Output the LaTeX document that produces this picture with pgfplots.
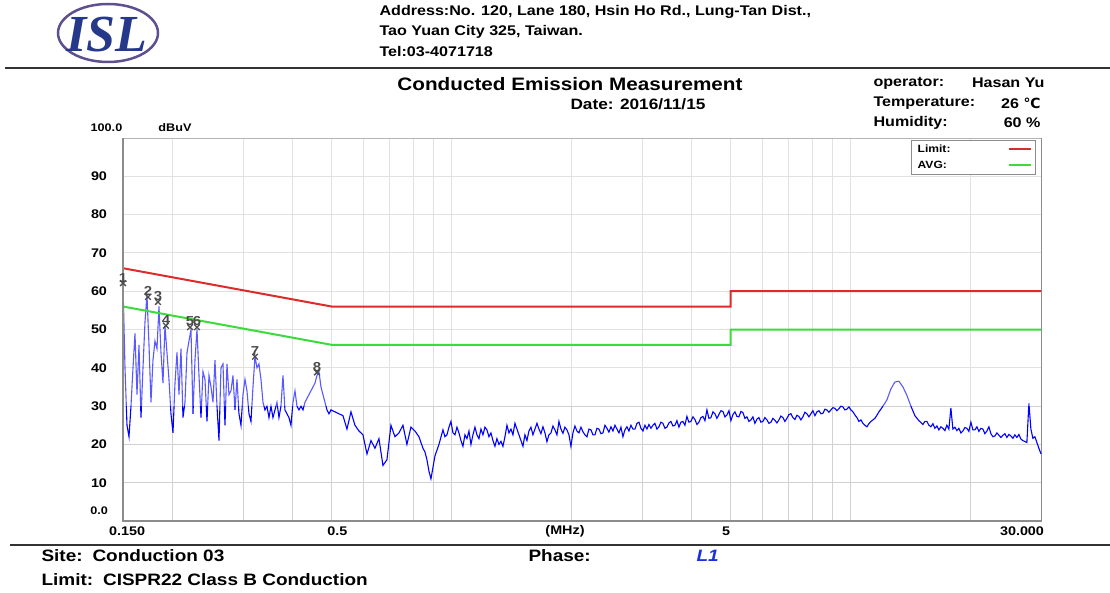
\documentclass[border=0pt]{standalone}
\usepackage{fontspec}
\setmainfont{Liberation Sans}[FakeStretch=1.15]
\newfontfamily\logofont{Liberation Serif}
\newfontfamily\symfont{DejaVu Sans}
\usepackage{pgfplots}
\usepackage{pgfplotstable}
\pgfplotsset{compat=1.18}
\newcommand{\fs}[1]{\fontsize{#1}{#1}\selectfont}
\definecolor{limred}{HTML}{DD2A2A}
\definecolor{avggreen}{HTML}{3ADB3A}
\definecolor{logoblue}{HTML}{26388A}
\definecolor{logoring}{HTML}{5E4F8E}
\definecolor{phaseblue}{HTML}{1A2FE0}

\begin{document}
% scan trace, L1 (MHz, dBuV)
\pgfplotstableread{
f v
0.15000 62
0.15174 40
0.15350 25
0.15529 22
0.15709 30
0.15891 40
0.16076 49
0.16262 33
0.16451 46
0.16642 27
0.16835 40
0.17031 52
0.17228 59
0.17428 46
0.17631 31
0.17835 42
0.18042 47
0.18252 45
0.18464 56
0.18678 44
0.18895 36
0.19114 51
0.19336 44
0.19560 37
0.19788 28
0.20017 23
0.20250 36
0.20485 44
0.20722 33
0.20963 45
0.21206 27
0.21452 31
0.21702 44
0.21953 47
0.22208 50
0.22466 28
0.22727 42
0.22991 50
0.23258 38
0.23528 27
0.23801 39
0.24077 37
0.24357 26
0.24639 38
0.24925 35
0.25215 31
0.25507 42
0.25804 30
0.26103 21
0.26406 40
0.26713 41
0.27023 25
0.27336 41
0.27654 33
0.27975 34
0.28299 38
0.28628 29
0.28960 37
0.29296 28
0.29637 25
0.29981 33
0.30329 37
0.30681 34
0.31037 28
0.31397 26
0.31762 35
0.32130 43
0.32503 40
0.32880 41
0.33262 37
0.33648 31
0.34039 29
0.34434 30
0.34834 27
0.35238 30
0.35647 27
0.36061 29
0.36480 31
0.36903 27
0.37332 30
0.37765 38
0.38203 29
0.38647 28
0.39095 27
0.39549 25
0.40008 31
0.40473 34
0.40943 30
0.41418 29
0.41899 30
0.42385 29
0.42877 31
0.43375 32
0.43878 33
0.44388 34
0.44903 35
0.45424 36
0.45952 38
0.46485 39
0.47025 35
0.47570 33
0.48123 31
0.48681 29
0.49246 28
0.49818 29
0.50981 28.5
0.52172 28
0.53390 27.5
0.54637 24
0.55913 28.5
0.57219 25
0.58555 23.5
0.59922 22.5
0.61321 17.5
0.62753 21
0.64219 19
0.65718 21.5
0.67253 14.5
0.68823 16
0.70430 25
0.72075 22
0.73758 23
0.75480 25
0.77243 20
0.79047 24.5
0.80893 23.5
0.82782 22
0.84714 19
0.85698 18
0.86693 16
0.87699 13
0.88717 11
0.89747 14
0.90789 17
0.92909 20
0.95078 23.8
0.96182 22.0
0.97299 22.5
0.98429 24.5
0.99571 26
1.00727 23.0
1.01896 22.5
1.03079 24.5
1.04276 23
1.05487 21.0
1.0671 19.5
1.0795 22.5
1.0920 21.5
1.1047 23.5
1.1175 20
1.1305 22.5
1.1436 24.5
1.1569 22.5
1.1703 21.5
1.1839 24.0
1.1977 22.5
1.2116 24.5
1.2256 23.8
1.2398 22.0
1.2542 23
1.2688 21.0
1.2835 19.5
1.2984 21.5
1.3135 20
1.3287 20.8
1.3442 19.5
1.3598 22.0
1.3756 25
1.3916 23.0
1.4077 24
1.4240 22.5
1.4406 25.5
1.4573 24.0
1.4742 22.5
1.4913 21.0
1.5086 19.5
1.5261 22.5
1.5438 21
1.5617 23.5
1.5799 24.5
1.5982 22.5
1.6168 24
1.6356 25.5
1.6546 24
1.6738 22.8
1.6933 24.6
1.7130 23.0
1.7328 20.7
1.7529 22.5
1.7733 23
1.7939 24.8
1.8147 23.8
1.8358 22.5
1.8571 26
1.8787 24.0
1.9004 22.9
1.9225 24.5
1.9448 23.8
1.9674 22.5
1.9902 19.5
2.0133 23.0
2.0367 24.8
2.0603 23.5
2.0842 23
2.1084 24.5
2.1329 23.3
2.1577 22.5
2.1827 22
2.2080 24.0
2.2337 23.8
2.2596 22.5
2.2858 22.5
2.3123 24.2
2.3392 24
2.3664 22.8
2.3938 23
2.4216 25.0
2.4497 24.2
2.4781 23.2
2.5070 24.6
2.5361 23.5
2.5655 25
2.5953 24.0
2.6254 23
2.6559 24.5
2.6867 22
2.7179 23.8
2.7494 24.6
2.7813 23.5
2.8137 25
2.8464 24.0
2.8794 24
2.9128 25.5
2.9466 25.8
2.9808 24.2
3.0154 23.5
3.0504 25.0
3.0858 24
3.1216 25.2
3.1579 24.2
3.1946 25.0
3.2316 25.5
3.2691 24.0
3.3071 24.6
3.3455 25.8
3.3843 25.5
3.4236 24.2
3.4633 24.5
3.5035 25.6
3.5442 26
3.5853 24.8
3.6270 25
3.6691 26.2
3.7117 24.5
3.7548 25.8
3.7983 26
3.8424 25.0
3.8870 27.3
3.9321 25.8
3.9778 26
4.0240 27.2
4.0707 26.5
4.1180 25.2
4.1658 25.8
4.2142 27.0
4.2630 27.3
4.3125 26.2
4.3625 29
4.4131 26.8
4.4644 27
4.5162 28.5
4.5686 28
4.6216 26.8
4.6753 27.8
4.7296 28.8
4.7846 28.6
4.8401 27.2
4.8963 27.7
4.9531 28.8
5.0106 26.2
5.0688 27.8
5.1277 28.5
5.1872 27.3
5.2474 27.2
5.3083 28.6
5.3699 28.3
5.4322 26.8
5.4953 27.2
5.5591 26.0
5.6236 26.4
5.6889 27.2
5.7549 25.5
5.8217 26.6
5.8893 27
5.9577 25.8
6.0268 26
6.0968 27.0
6.1676 26.4
6.2392 25.5
6.3116 25.8
6.3849 26.8
6.4590 26.3
6.5340 25.6
6.6098 26.4
6.6865 27.4
6.7642 27
6.8427 26.0
6.9221 26.8
7.0025 27.8
7.0837 28
7.1659 27.0
7.2492 26.5
7.3334 27.6
7.4185 27.3
7.5046 26.4
7.5917 27.2
7.6798 28.4
7.7690 28
7.8592 27.2
7.9504 28
8.0427 28.8
8.1360 27.5
8.2304 28.5
8.3260 28.8
8.4227 28.0
8.5204 28.1
8.6193 29.2
8.7194 29
8.8206 28.4
8.9230 29
9.0266 29.6
9.1314 29.4
9.2374 28.8
9.3446 29.3
9.4531 30.0
9.5628 29.8
9.6738 29.0
9.7861 29.2
9.8997 29.8
10.015 29
10.131 28.5
10.249 27.7
10.368 27.0
10.488 26
10.610 26.4
10.733 25.5
10.858 25.0
10.983 24.6
11.110 25.4
11.240 26
11.370 26.4
11.502 26.8
11.636 27.6
11.771 28.5
11.908 29.2
12.046 30
12.327 31.6
12.615 34.5
12.909 36.3
13.211 36.5
13.519 35
13.835 32.8
14.158 30
14.489 27.5
14.827 26.2
15.173 25.2
15.349 26.0
15.528 26
15.708 25.0
15.890 24.6
16.074 25.4
16.261 24.2
16.450 24.8
16.641 23.8
16.834 24.6
17.030 24.2
17.228 23.6
17.427 25
17.629 24.0
17.834 29.5
18.041 24.0
18.251 24.5
18.463 23.6
18.677 24.2
18.894 23.0
19.113 23.5
19.335 24.4
19.559 24.2
19.786 23.4
20.016 25.8
20.248 23.8
20.483 23.8
20.721 24.6
20.962 23.4
21.205 24.2
21.451 24
21.700 22.8
21.952 23.5
22.207 24.6
22.465 22.8
22.726 22.0
22.989 22.2
23.256 23.0
23.526 22.4
23.799 21.8
24.076 22.4
24.355 22.8
24.638 21.8
24.924 22.6
25.213 22.2
25.506 21.6
25.802 22.5
26.101 21.8
26.404 22.6
26.710 21.4
27.021 21
27.652 20.5
27.973 30.8
28.298 24
28.626 21.6
28.958 22
29.295 20.5
29.635 19
30.000 17.5
}\trace

% marked peaks
\pgfplotstableread{
f v lbl
0.1500 62.1 1
0.1733 58.5 2
0.1836 57.2 3
0.1922 51.0 4
0.2209 50.6 5
0.2299 50.6 6
0.3213 42.9 7
0.4596 38.8 8
}\peaks

\begin{tikzpicture}
\useasboundingbox (0,0) rectangle (1110pt,592pt);

% logo
\draw[logoring, line width=2.5pt] (108pt,559pt) ellipse [x radius=50pt, y radius=29pt];
\node[logoblue, font=\logofont\bfseries\itshape\fs{52}] at (107pt,557pt) {ISL};

% address block
\node[anchor=west, font=\bfseries\fs{14}] at (376pt,580pt) {Address:No. 120, Lane 180, Hsin Ho Rd., Lung-Tan Dist.,};
\node[anchor=west, font=\bfseries\fs{14}] at (376pt,560pt) {Tao Yuan City 325, Taiwan.};
\node[anchor=west, font=\bfseries\fs{14}] at (376pt,540pt) {Tel:03-4071718};
\draw[black!80, line width=2pt] (5pt,524pt) -- (1110pt,524pt);

% title and conditions
\node[font=\bfseries\fs{18}] at (570pt,508pt) {Conducted Emission Measurement};
\node[anchor=west, font=\bfseries\fs{15}] at (567pt,488pt) {Date: 2016/11/15};
\node[anchor=west, font=\bfseries\fs{14}] at (870pt,509pt) {operator:};
\node[anchor=east, font=\bfseries\fs{14}] at (1048pt,509pt) {Hasan Yu};
\node[anchor=west, font=\bfseries\fs{14}] at (870pt,489pt) {Temperature:};
\node[anchor=east, font=\bfseries\fs{14}] at (1044pt,489pt) {26 {\symfont ℃}};
\node[anchor=west, font=\bfseries\fs{14}] at (870pt,469pt) {Humidity:};
\node[anchor=east, font=\bfseries\fs{14}] at (1044pt,469pt) {60 \%};

\begin{axis}[
    at={(123pt,71pt)}, anchor=south west,
    scale only axis, width=918pt, height=383pt,
    xmode=log, xmin=0.15, xmax=30, ymin=0, ymax=100,
    xtick={0.2,0.3,0.4,0.5,0.6,0.7,0.8,0.9,1,2,3,4,5,6,7,8,9,10,20},
    xticklabels={},
    ytick={10,20,30,40,50,60,70,80,90},
    yticklabels={10,20,30,40,50,60,70,80,90},
    yticklabel style={anchor=center, xshift=-24pt, font=\bfseries\fs{12.5}},
    major tick length=0pt, minor tick length=0pt,
    grid=major,
    grid style={black!18, line width=0.9pt},
    axis line style={black!45, line width=0.8pt},
    clip=false,
    legend plot pos=right,
    legend cell align=left,
    legend image code/.code={\draw[#1, line width=2pt] (0pt,0pt) -- (22pt,0pt);},
    legend style={at={(0.9946,0.995)}, anchor=north east, draw=black!45,
        line width=0.8pt, font=\bfseries\fs{10.5}, inner xsep=4pt, inner ysep=2.5pt,
        row sep=3pt, cells={anchor=west}},
]
\addplot[blue, line width=1.1pt, forget plot] table[x=f, y=v] {\trace};
\fill[white, opacity=0.35] (axis cs:0.15,30) rectangle (axis cs:30,100);

\addplot[limred, line width=2pt] coordinates {(0.15,66) (0.5,56) (5,56) (5,60) (30,60)};
\addlegendentry{\makebox[88pt][l]{Limit:}}
\addplot[avggreen, line width=2pt] coordinates {(0.15,56) (0.5,46) (5,46) (5,50) (30,50)};
\addlegendentry{\makebox[88pt][l]{AVG:}}

\addplot[only marks, mark=x, mark size=4pt, black!70, line width=1.3pt, forget plot,
    nodes near coords, point meta=explicit symbolic,
    every node near coord/.style={font=\bfseries\fs{13}, black!70, anchor=south, inner sep=0.5pt, yshift=0pt}]
    table[x=f, y=v, meta=lbl] {\peaks};

\draw[black!45, line width=2.5pt] (rel axis cs:0,1) -- (rel axis cs:0,0) -- (rel axis cs:1,0);

% axis texts
\node[font=\bfseries\fs{11}] at (rel axis cs:-0.026,0.026) {0.0};
\node[font=\bfseries\fs{11}] at (rel axis cs:-0.018,1.026) {100.0};
\node[font=\bfseries\fs{11}] at (rel axis cs:0.0566,1.026) {dBuV};
\node[font=\bfseries\fs{12.5}] at (rel axis cs:0.0044,-0.026) {0.150};
\node[font=\bfseries\fs{12.5}] at (rel axis cs:0.2336,-0.026) {0.5};
\node[font=\bfseries\fs{12.5}] at (rel axis cs:0.4815,-0.026) {(MHz)};
\node[font=\bfseries\fs{12.5}] at (rel axis cs:0.6569,-0.026) {5};
\node[font=\bfseries\fs{12.5}] at (rel axis cs:0.9793,-0.026) {30.000};
\end{axis}

% footer
\draw[black!80, line width=2pt] (10pt,47pt) -- (1110pt,47pt);
\node[anchor=west, font=\bfseries\fs{16.5}] at (38pt,36pt) {Site:\hspace{0.6em}Conduction 03};
\node[anchor=west, font=\bfseries\fs{16.5}] at (525pt,36pt) {Phase:};
\node[anchor=west, font=\bfseries\itshape\fs{16.5}, phaseblue] at (693pt,36pt) {L1};
\node[anchor=west, font=\bfseries\fs{16.5}] at (38pt,12pt) {Limit:\hspace{0.6em}CISPR22 Class B Conduction};
\end{tikzpicture}
\end{document}
